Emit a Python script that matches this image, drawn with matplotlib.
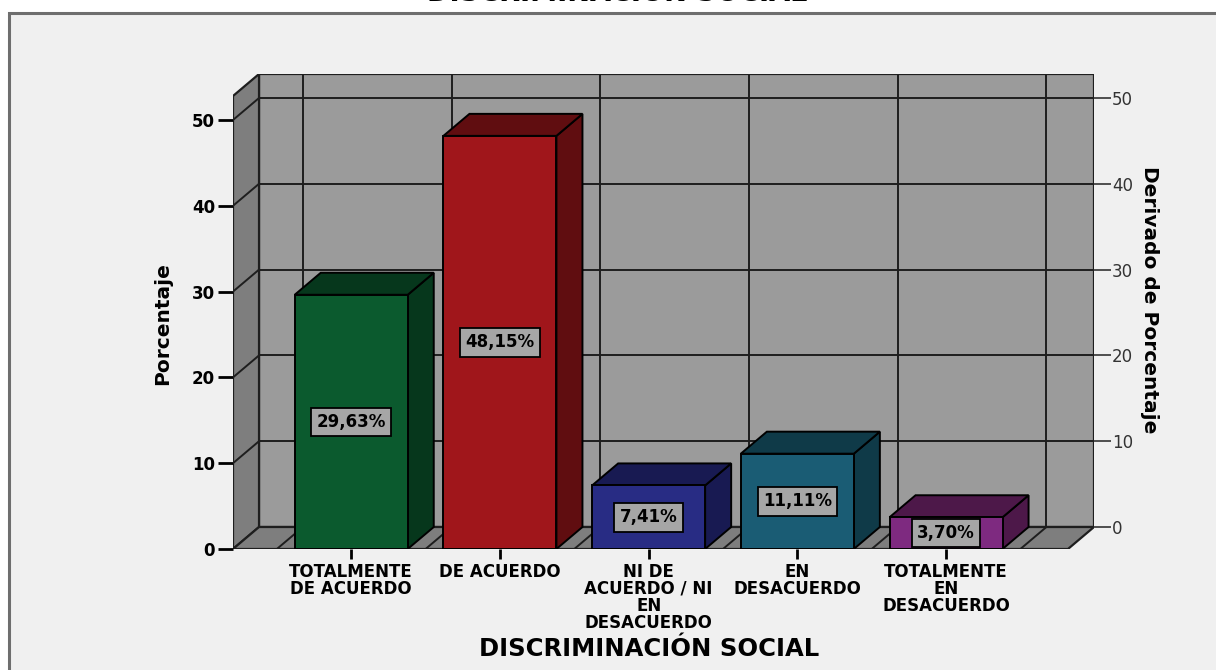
import matplotlib

matplotlib.use("Agg")
import matplotlib.pyplot as plt
from matplotlib.patches import Polygon, Rectangle

# data
categories = [
    "TOTALMENTE\nDE ACUERDO",
    "DE ACUERDO",
    "NI DE\nACUERDO / NI\nEN\nDESACUERDO",
    "EN\nDESACUERDO",
    "TOTALMENTE\nEN\nDESACUERDO",
]
percent = [29.63, 48.15, 7.41, 11.11, 3.70]
front_colors = ["#0b5a2e", "#a0161b", "#282c84", "#1a5c74", "#7e2a80"]
side_colors = ["#06371c", "#600d10", "#181a52", "#0f3a48", "#4d1849"]
yticks = [0, 10, 20, 30, 40, 50]

# 3D box geometry (data units)
XL, XR = -0.795, 4.995      # front-left edge, back-right edge
YTOP = 55.36                # top of back wall
DX, DY = 0.175, 2.564       # depth offset
BAR_W = 0.76

WALL = "#9b9b9b"
SIDE = "#7e7e7e"
GRID = "#1e1e1e"

fig = plt.figure(figsize=(12.16, 6.7), dpi=100)
fig.patch.set_facecolor("white")
fig.add_artist(Rectangle((9 / 1216, -0.02), 1.0, (670 - 13) / 670 + 0.02,
                         transform=fig.transFigure, facecolor="#f0f0f0",
                         edgecolor="#6e6e6e", lw=2.2, zorder=0))

ax = fig.add_axes([233 / 1216, (670 - 549) / 670, 861 / 1216, 475 / 670])
ax.set_xlim(XL, XR)
ax.set_ylim(0, YTOP)
ax.patch.set_visible(False)
for s in ax.spines.values():
    s.set_visible(False)

# back wall, left wall, floor
ax.add_patch(Polygon([(XL + DX, DY), (XR, DY), (XR, YTOP), (XL + DX, YTOP)],
                     closed=True, fc=WALL, ec=GRID, lw=1.6, zorder=1))
ax.add_patch(Polygon([(XL, 0), (XL, YTOP - DY), (XL + DX, YTOP), (XL + DX, DY)],
                     closed=True, fc=SIDE, ec=GRID, lw=1.6, zorder=1))
ax.add_patch(Polygon([(XL, 0), (XR - DX, 0), (XR, DY), (XL + DX, DY)],
                     closed=True, fc=SIDE, ec=GRID, lw=1.6, zorder=1))

for v in yticks[1:]:
    ax.plot([XL + DX, XR], [v + DY, v + DY], color=GRID, lw=1.4, zorder=2)
    ax.plot([XL, XL + DX], [v, v + DY], color=GRID, lw=1.4, zorder=2)
for b in range(len(categories) + 1):
    xb = b - 0.5
    ax.plot([xb + DX, xb + DX], [DY, YTOP], color=GRID, lw=1.4, zorder=2)
    ax.plot([xb, xb + DX], [0, DY], color=GRID, lw=1.4, zorder=2)

# bars
for i, (v, fc, sc) in enumerate(zip(percent, front_colors, side_colors)):
    x0, x1 = i - BAR_W / 2, i + BAR_W / 2
    ax.add_patch(Polygon([(x1, 0), (x1 + DX, DY), (x1 + DX, v + DY), (x1, v)],
                         closed=True, fc=sc, ec="black", lw=1.4, zorder=3))
    ax.add_patch(Polygon([(x0, v), (x1, v), (x1 + DX, v + DY), (x0 + DX, v + DY)],
                         closed=True, fc=sc, ec="black", lw=1.4, zorder=3))
    ax.add_patch(Rectangle((x0, 0), BAR_W, v, fc=fc, ec="black", lw=1.4, zorder=4))
    ax.text(i, v / 2, f"{v:.2f}%".replace(".", ","), ha="center", va="center",
            fontsize=12, fontweight="bold", color="black", zorder=6,
            bbox=dict(boxstyle="square,pad=0.32", fc="#a6a6a6", ec="black", lw=1.3))

ax.set_yticks(yticks)
ax.set_yticklabels([str(t) for t in yticks], fontsize=12, fontweight="bold")
ax.tick_params(axis="y", length=11, width=2, pad=2)
ax.set_xticks(range(len(categories)))
ax.set_xticklabels(categories, fontsize=12, fontweight="bold", linespacing=0.92,
                   va="top")
ax.tick_params(axis="x", length=7, width=2, pad=3)

# right axis, drawn on the back plane
tw = ax.twinx()
tw.set_ylim(-DY, YTOP - DY)
for s in tw.spines.values():
    s.set_visible(False)
tw.set_yticks(yticks)
tw.set_yticklabels([str(t) for t in yticks], fontsize=12, color="#333333")
tw.tick_params(axis="y", length=12, width=1.2, color="#333333", pad=1)

fig.text(163 / 1216, 1 - 324 / 670, "Porcentaje", rotation=90, ha="center",
         va="center", fontsize=14.5, fontweight="bold")
fig.text(1150 / 1216, 1 - 300 / 670, "Derivado de Porcentaje", rotation=270,
         ha="center", va="center", fontsize=14.5, fontweight="bold")
fig.text(649 / 1216, 1 - 649 / 670, "DISCRIMINACIÓN SOCIAL", ha="center",
         va="center", fontsize=17.5, fontweight="bold")
fig.text(617 / 1216, 1 - 1 / 670, "DISCRIMINACIÓN SOCIAL", ha="center",
         va="baseline", fontsize=19.5, fontweight="bold")

fig.savefig("out.png", dpi=100)
